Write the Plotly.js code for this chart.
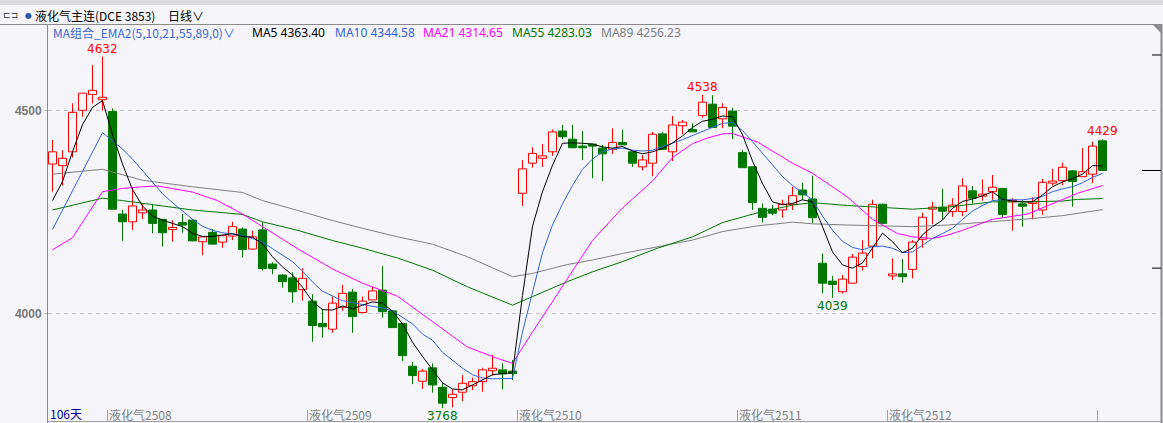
<!DOCTYPE html>
<html><head><meta charset="utf-8">
<script src="https://cdn.plot.ly/plotly-3.0.1.min.js"></script>
<style>html,body{margin:0;padding:0;background:#f5f5fa;overflow:hidden}#chart{width:1163px;height:423px}</style>
</head><body><div id="chart"></div><script>
const opens = [4368,4364,4398,4500,4539,4526,4497,4245,4226,4248, 4255,4232,4207,4224,4230,4177,4200,4176,4191,4208, 4159,4206,4122,4095,4088,4059,4031,3976,3962,4016, 4053,4003,4034,4058,4007,3976,3871,3834,3867,3819, 3794,3807,3823,3833,3860,3862,3859,4296,4370,4382, 4398,4449,4429,4412,4417,4407,4404,4421,4398,4361, 4370,4442,4398,4462,4453,4487,4515,4479,4498,4396, 4361,4259,4257,4255,4269,4304,4282,4124,4080,4054, 4075,4116,4166,4269,4093,4098,4109,4183,4257,4262, 4251,4251,4302,4289,4300,4308,4275,4270,4271,4255, 4321,4327,4351,4337,4343,4425];
const highs = [4427,4402,4517,4542,4611,4632,4505,4255,4310,4271, 4270,4232,4230,4245,4232,4189,4208,4192,4226,4212, 4204,4225,4126,4097,4102,4112,4048,4012,4042,4071, 4061,4042,4066,4117,4009,3976,3881,3864,3878,3829, 3814,3849,3843,3867,3899,3878,3886,4378,4409,4417, 4453,4464,4464,4449,4417,4415,4456,4452,4398,4390, 4447,4447,4486,4476,4468,4538,4537,4517,4506,4402, 4361,4271,4267,4280,4312,4322,4339,4148,4093,4095, 4147,4181,4280,4271,4136,4134,4181,4248,4275,4307, 4284,4333,4314,4330,4341,4308,4284,4279,4286,4331, 4356,4371,4353,4407,4423,4429];
const lows = [4300,4315,4384,4484,4517,4499,4257,4179,4206,4233, 4198,4165,4177,4199,4178,4144,4171,4162,4181,4138, 4157,4106,4097,4064,4027,4032,3931,3941,3953,4007, 3953,4003,4034,3990,3966,3884,3827,3815,3806,3768, 3770,3785,3812,3808,3848,3814,3837,4265,4359,4361, 4388,4429,4407,4378,4333,4326,4393,4415,4361,4352, 4338,4404,4375,4441,4447,4482,4458,4456,4429,4359, 4255,4224,4242,4236,4255,4280,4222,4050,4039,4050, 4075,4106,4136,4222,4083,4076,4087,4162,4220,4232, 4238,4240,4271,4278,4280,4236,4204,4214,4232,4243, 4315,4316,4263,4337,4321,4352];
const closes = [4398,4382,4495,4542,4549,4532,4257,4226,4265,4255, 4222,4199,4212,4218,4179,4189,4171,4192,4214,4158, 4189,4111,4111,4079,4054,4087,3971,3968,4026,4050, 3993,4031,4056,4005,3966,3897,3848,3859,3825,3780, 3802,3829,3833,3862,3866,3852,3853,4356,4394,4388, 4447,4435,4408,4408,4412,4393,4421,4415,4370,4378, 4441,4404,4464,4471,4447,4520,4458,4507,4461,4359, 4273,4237,4247,4269,4290,4292,4236,4075,4072,4085, 4139,4149,4269,4222,4098,4091,4176,4237,4262,4252, 4267,4314,4284,4294,4311,4244,4279,4264,4275,4323, 4326,4360,4325,4349,4412,4352];

// Moving-average lines
const ma5 = [4278,4325,4398,4465,4507,4524,4440,4368,4305,4265, 4240,4230,4222,4214,4198,4190,4190,4193,4197,4190, 4188,4172,4140,4115,4095,4065,4030,4010,4009,4019, 4012,4021,4029,4026,4006,3975,3930,3895,3863,3830, 3815,3813,3825,3837,3850,3853,3855,4045,4215,4300, 4365,4419,4420,4419,4417,4410,4407,4411,4400,4393, 4398,4406,4420,4437,4458,4473,4478,4486,4484,4440, 4375,4320,4275,4268,4271,4280,4275,4214,4152,4120, 4112,4125,4161,4198,4177,4150,4161,4194,4214,4230, 4259,4276,4282,4290,4300,4281,4277,4275,4275,4292, 4312,4324,4332,4343,4364,4363];
const ma10 = [4207,4255,4300,4350,4400,4445,4425,4405,4380,4352, 4322,4295,4273,4253,4232,4215,4205,4199,4196,4192, 4185,4176,4160,4143,4128,4105,4078,4055,4043,4032, 4027,4023,4018,4014,4007,3990,3975,3950,3935,3905, 3885,3866,3850,3842,3840,3840,3841,3955,4050,4150, 4218,4270,4315,4355,4380,4398,4405,4407,4402,4400, 4402,4410,4419,4428,4438,4447,4457,4468,4470,4450, 4423,4395,4367,4337,4315,4298,4280,4240,4205,4178, 4163,4157,4165,4166,4161,4150,4152,4168,4185,4197, 4210,4232,4252,4266,4278,4280,4280,4280,4283,4288, 4300,4307,4312,4322,4335,4345];
const ma21Idx = [0,2,5,7,9,10.5,14,16.5,19,21, 24.5,28,31,34.5,38,41.5,44.5,46,48,50, 52,54,57,60,62,64,65.5,67,68,70.5, 74,76,79.5,82,84.5,86,88,89.5,91,93, 94,97.5,101,102.5,105];
const ma21 = [4157,4187,4300,4308,4312,4314,4299,4278,4245,4214, 4160,4110,4075,4043,3980,3918,3890,3878,3955,4030, 4105,4180,4260,4326,4384,4418,4432,4442,4443,4422, 4370,4345,4287,4232,4197,4189,4185,4193,4205,4222, 4232,4245,4282,4296,4315];
const ma55Idx = [0,5,7,10.5,14,19,21,24.5,28,31, 34.5,38,41.5,46,48,51.5,54,57,60.5,64, 67,70.5,74,76,79.5,83,86,89.5,93,94, 97.5,101,102.5,105];
const ma55 = [4255,4284,4278,4266,4255,4244,4226,4205,4180,4161, 4137,4107,4066,4021,4042,4079,4103,4128,4161,4189, 4224,4248,4267,4273,4266,4262,4257,4262,4271,4275, 4275,4277,4281,4283];
const ma89Idx = [0,5,9,14,19,21,24.5,28,31,34.5, 38,41.5,46,48,51.5,54,57,60.5,64,67, 70.5,74,76,79.5,83,86,89.5,93,94,97.5, 101,105];
const ma89 = [4343,4355,4328,4312,4298,4278,4254,4229,4210,4189, 4171,4140,4091,4099,4121,4132,4148,4165,4181,4202, 4216,4225,4221,4218,4215,4214,4218,4224,4227,4233, 4241,4256];

const maNames = ['MA5','MA10','MA21','MA55','MA89'];
const maLast = ['4363.40','4344.58','4314.65','4283.03','4256.23'];
const maColors = ['#000000','#3264dc','#ff00ff','#007800','#808080'];

const contractTickIdx = [5.5, 25.5, 46.5, 68.5, 83.5, 104.5];
const contractLabels = ['液化气2508','液化气2509','液化气2510','液化气2511','液化气2512',''];
const yTicks = [4000, 4500];
const highMarkIdx = [5, 65, 105];
const lowMarkIdx = [39, 78];
const rightScaleMarks = [4636, 4112];

const UP = '#ff0000', DOWN = '#007800', BG = '#f5f5fa';
const n = closes.length;
const idx = closes.map((_, i) => i);

// pixel -> paper helpers for frame decorations
const L = 48, R = 1161, T = 25, B = 423;
const px = x => (x - L) / (R - L);
const py = y => (B - y) / (B - T);

const upB = {x:[], base:[], y:[]}, dnB = {x:[], base:[], y:[]};
const upW = {x:[], y:[]}, dnW = {x:[], y:[]};
for (let i = 0; i < n; i++) {
  const o = opens[i], c = closes[i], h = highs[i], l = lows[i];
  const top = Math.max(o, c), bot = Math.min(o, c);
  const isUp = c >= o;
  const b = isUp ? upB : dnB, w = isUp ? upW : dnW;
  b.x.push(i); b.base.push(bot); b.y.push(Math.max(top - bot, 1));
  w.x.push(i, i, null, i, i, null);
  w.y.push(h, top, null, bot, l, null);
}

const traces = [
  {type:'scatter', mode:'lines', x:upW.x, y:upW.y, line:{color:UP, width:1}, hoverinfo:'skip', connectgaps:false},
  {type:'scatter', mode:'lines', x:dnW.x, y:dnW.y, line:{color:DOWN, width:1}, hoverinfo:'skip', connectgaps:false},
  {type:'bar', x:upB.x, base:upB.base, y:upB.y, width:0.8, marker:{color:BG, line:{color:UP, width:1}}, hoverinfo:'skip'},
  {type:'bar', x:dnB.x, base:dnB.base, y:dnB.y, width:0.8, marker:{color:DOWN, line:{color:DOWN, width:1}}, hoverinfo:'skip'},
  {type:'scatter', mode:'lines', x:ma89Idx, y:ma89, line:{color:maColors[4], width:1}, hoverinfo:'skip'},
  {type:'scatter', mode:'lines', x:ma55Idx, y:ma55, line:{color:maColors[3], width:1}, hoverinfo:'skip'},
  {type:'scatter', mode:'lines', x:ma21Idx, y:ma21, line:{color:maColors[2], width:1}, hoverinfo:'skip'},
  {type:'scatter', mode:'lines', x:idx, y:ma10, line:{color:maColors[1], width:1}, hoverinfo:'skip'},
  {type:'scatter', mode:'lines', x:idx, y:ma5, line:{color:maColors[0], width:1}, hoverinfo:'skip'}
];

const annotations = [];
const cjk = 'Noto Sans CJK SC';
// header
annotations.push({xref:'paper', yref:'paper', x:px(1), y:py(15), xanchor:'left', yanchor:'middle', text:'⊏⊐', showarrow:false, font:{family:'DejaVu Sans', size:9, color:'#333'}});
annotations.push({xref:'paper', yref:'paper', x:px(28), y:py(15), xanchor:'center', yanchor:'middle', text:'●', showarrow:false, font:{family:'DejaVu Sans', size:8, color:'#2e5aa8'}});
annotations.push({xref:'paper', yref:'paper', x:px(33), y:py(15), xanchor:'left', yanchor:'middle', text:'液化气主连(DCE 3853)', showarrow:false, font:{family:cjk, size:12, color:'#000'}});
annotations.push({xref:'paper', yref:'paper', x:px(166), y:py(15), xanchor:'left', yanchor:'middle', text:'日线∨', showarrow:false, font:{family:cjk, size:12, color:'#000'}});
// MA legend
annotations.push({xref:'paper', yref:'paper', x:px(51), y:py(32.5), xanchor:'left', yanchor:'middle', text:'MA组合_EMA2(5,10,21,55,89,0)∨', showarrow:false, font:{family:cjk, size:12, color:'#3a66d8'}});
const legX = [250, 333, 421, 510, 599];
maNames.forEach((nm, k) => {
  annotations.push({xref:'paper', yref:'paper', x:px(legX[k]), y:py(32.5), xanchor:'left', yanchor:'middle', text:nm + ' ' + maLast[k], showarrow:false, font:{family:'Noto Sans', size:12, color:maColors[k]}});
});
// extreme labels
highMarkIdx.forEach(i => annotations.push({x:i, y:highs[i], xref:'x', yref:'y', yanchor:'bottom', xanchor:'center', text:String(highs[i]), showarrow:false, borderpad:0, font:{family:'DejaVu Sans', size:12, color:UP}}));
lowMarkIdx.forEach(i => annotations.push({x:i, y:lows[i], xref:'x', yref:'y', yanchor:'top', xanchor:'center', text:String(lows[i]), showarrow:false, borderpad:0, font:{family:'DejaVu Sans', size:12, color:DOWN}}));
// bottom labels
annotations.push({xref:'paper', yref:'paper', x:px(48), y:py(413), xanchor:'left', yanchor:'middle', text:n + '天', showarrow:false, font:{family:cjk, size:12, color:'#0000a0'}});
contractTickIdx.forEach((t, k) => {
  if (contractLabels[k]) annotations.push({xref:'x', yref:'paper', x:t, xshift:-1, y:py(414), xanchor:'left', yanchor:'middle', text:contractLabels[k], showarrow:false, font:{family:cjk, size:12, color:'#808080'}});
});

const shapes = [];
shapes.push({type:'rect', xref:'paper', yref:'paper', x0:px(0), x1:px(1163), y0:py(0), y1:py(5), fillcolor:'#dcdce2', line:{width:0}});
shapes.push({type:'line', xref:'paper', yref:'paper', x0:px(0), x1:px(1162), y0:py(24.5), y1:py(24.5), line:{color:'#8a8a8a', width:1}});
shapes.push({type:'line', xref:'paper', yref:'paper', x0:px(1161.5), x1:px(1161.5), y0:py(24), y1:py(423), line:{color:'#8a8a8a', width:2}});
shapes.push({type:'path', xref:'paper', yref:'paper', path:`M ${px(1153)} ${py(25)} L ${px(1161)} ${py(25)} L ${px(1161)} ${py(33)} Z`, fillcolor:'#8a8a8a', line:{width:0}});
shapes.push({type:'line', xref:'paper', yref:'paper', x0:0, x1:1, y0:py(421.5), y1:py(421.5), line:{color:'#a0a0a0', width:1}});
contractTickIdx.forEach(t => shapes.push({type:'line', xref:'x', yref:'paper', x0:t, x1:t, y0:py(410), y1:py(421.5), line:{color:'#a0a0a0', width:1}}));
rightScaleMarks.forEach(v => shapes.push({type:'line', xref:'paper', yref:'y', x0:px(1152), x1:px(1161), y0:v, y1:v, line:{color:'#000', width:1}}));
shapes.push({type:'line', xref:'paper', yref:'y', x0:px(1142), x1:px(1161), y0:closes[n-1], y1:closes[n-1], line:{color:'#000', width:1}});

const layout = {
  width:1163, height:423,
  margin:{l:L, r:1163 - R, t:T, b:0, pad:0},
  paper_bgcolor:BG, plot_bgcolor:BG,
  showlegend:false, barmode:'overlay',
  xaxis:{range:[(L - 52.5) / 10, (R - 52.5) / 10], showgrid:false, zeroline:false, showticklabels:false, ticks:'', showline:false, fixedrange:true},
  yaxis:{range:[4500 - (B - 110.3) * 2.458, 4500 + (110.3 - T) * 2.458], tickvals:yTicks, ticktext:yTicks.map(String),
    showgrid:true, gridcolor:'#c4c4c4', griddash:'4px,4px', zeroline:false, showline:true, linecolor:'#8a8a8a', linewidth:1,
    ticks:'outside', ticklen:3, tickcolor:'#c4c4c4', tickfont:{family:'Liberation Sans', size:12, color:'#7a7a7a', weight:'bold'}, fixedrange:true},
  annotations, shapes, hovermode:false
};
Plotly.newPlot('chart', traces, layout, {displayModeBar:false, staticPlot:true});
</script></body></html>
